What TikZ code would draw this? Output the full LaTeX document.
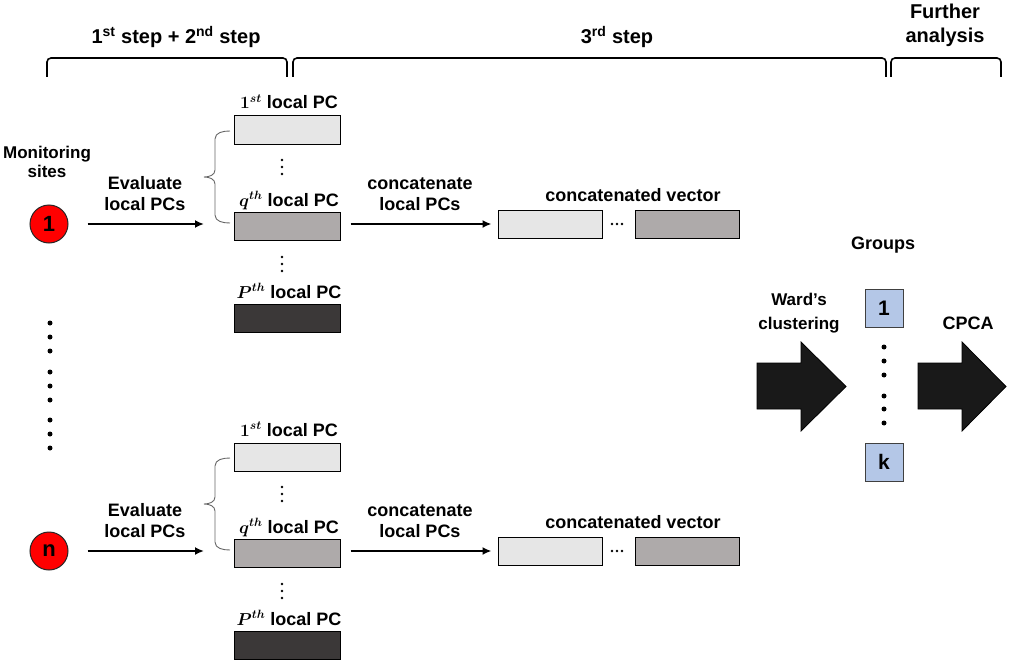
\documentclass[tikz,border=0pt]{standalone}
\usepackage{amsmath}
\usepackage{fontspec}
\setmainfont{Liberation Sans}
\usepackage{tikz}
\usetikzlibrary{calc,arrows.meta}
\definecolor{pclight}{HTML}{E6E6E6}
\definecolor{pcmid}{HTML}{AEAAAA}
\definecolor{pcdark}{HTML}{3B3838}
\definecolor{grpblue}{HTML}{B4C7E7}

\begin{document}
\begin{tikzpicture}[x=1pt,y=-1pt,
	lbl/.style={font=\bfseries\fontsize{18}{21}\selectfont,align=center,inner sep=0pt},
	headlbl/.style={font=\bfseries\fontsize{20}{24}\selectfont,align=center,inner sep=0pt},
	pcbox/.style={draw=black,line width=1pt,minimum width=106pt,minimum height=28pt,inner sep=0pt},
	sitenode/.style={circle,draw=black!85,line width=1pt,fill=red,minimum size=38pt,inner sep=0pt,font=\bfseries\fontsize{22}{22}\selectfont},
	grpbox/.style={draw=black!75,line width=1pt,fill=grpblue,minimum size=38pt,inner sep=0pt,font=\bfseries\fontsize{21}{21}\selectfont},
	flow/.style={line width=2.2pt,-{Latex[length=9pt,width=8pt]}},
	stepbrack/.style={line width=1.6pt,rounded corners=4pt},
	pcbrace/.style={draw=black!60,line width=0.9pt},
	bigdot/.style={circle,fill=black,inner sep=0pt,minimum size=5pt},
	smalldot/.style={circle,fill=black,inner sep=0pt,minimum size=2.8pt},
	blockarrow/.style={fill=black!90,draw=black,line width=0.8pt}]
\useasboundingbox (0,0) rectangle (1014,666);

% steps
\node[headlbl] (h12) at (176,37) {1\textsuperscript{st} step + 2\textsuperscript{nd} step};
\node[headlbl] (h3) at (617,37) {3\textsuperscript{rd} step};
\node[headlbl] (h4) at (945,25) {Further\\analysis};
\draw[stepbrack] (47,77) -- (47,58) -- (287,58) -- (287,77);
\draw[stepbrack] (293,77) -- (293,58) -- (886,58) -- (886,77);
\draw[stepbrack] (891,77) -- (891,58) -- (1001,58) -- (1001,77);

\node[lbl,font=\bfseries\fontsize{17}{19}\selectfont] (mon) at (47,162) {Monitoring\\sites};
\foreach \yy in {323,337,351,372,386,400,420,434,448}{
	\node[bigdot] (sd\yy) at (50,\yy) {};
}

% site 1 and site n
\foreach \r/\off in {1/0,n/327}{
	\node[sitenode] (site\r) at (49,224+\off) {\r};
	\coordinate (tip\r) at (204,224+\off);
	\draw[flow] ($(site\r.east)+(19,0)$) -- (tip\r);
	\node[lbl] (eval\r) at (145,194+\off) {Evaluate\\local PCs};
	\draw[pcbrace] (230,131+\off) to[out=180,in=90] (215,139+\off) -- (215,170+\off)
		to[out=-90,in=0] (204,177+\off) to[out=0,in=90] (215,184+\off) -- (215,215+\off)
		to[out=-90,in=180] (230,223+\off);
	\node[pcbox,fill=pclight] (pcA\r) at (287,130+\off) {};
	\node[pcbox,fill=pcmid] (pcQ\r) at (287,226+\off) {};
	\node[pcbox,fill=pcdark] (pcP\r) at (287,318+\off) {};
	\node[lbl,anchor=base] (pcAl\r) at (289,109+\off) {$\boldsymbol{1^{st}}$ local PC};
	\node[lbl,anchor=base] (pcQl\r) at (289,206+\off) {$\boldsymbol{q^{th}}$ local PC};
	\node[lbl,anchor=base] (pcPl\r) at (289,298+\off) {$\boldsymbol{P^{th}}$ local PC};
	\foreach \yy in {160,167,174,257,264,271}{
		\node[smalldot] (vd\r\yy) at (282,\yy+\off) {};
	}
	\node[lbl] (cat\r) at (420,194+\off) {concatenate\\local PCs};
	\node[pcbox,minimum width=104pt,fill=pclight] (vecA\r) at (550,224+\off) {};
	\node[pcbox,minimum width=104pt,fill=pcmid] (vecB\r) at (687,224+\off) {};
	\draw[flow] ($(pcQ\r.east)+(10,-2)$) -- ($(vecA\r.west)+(-6,0)$);
	\foreach \xx in {612,617,622}{
		\node[smalldot] (hd\r\xx) at (\xx,224+\off) {};
	}
	\node[lbl,anchor=base] (vecl\r) at (633,201+\off) {concatenated vector};
}

% groups
\node[lbl] (grpl) at (883,245) {Groups};
\node[grpbox] (g1) at (884,308) {1};
\node[grpbox] (gk) at (884,462) {k};
\foreach \yy in {347,361,375,396,409,423}{
	\node[bigdot] (gd\yy) at (884,\yy) {};
}
\node[lbl,font=\bfseries\fontsize{17}{24}\selectfont] (ward) at (799,313) {Ward’s\\clustering};
\node[lbl] (cpca) at (968,323) {CPCA};
\draw[blockarrow] (757,363) -- (801,363) -- (801,342) -- (846,386.5) -- (801,431) -- (801,409) -- (757,409) -- cycle;
\draw[blockarrow] (918,363) -- (962,363) -- (962,342) -- (1006,386.5) -- (962,431) -- (962,409) -- (918,409) -- cycle;
\end{tikzpicture}
\end{document}
